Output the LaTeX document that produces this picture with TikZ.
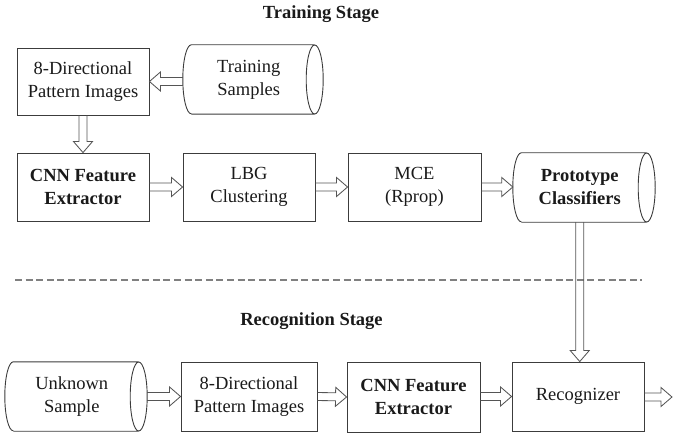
\documentclass[tikz,border=0pt]{standalone}
\usepackage{fontspec}
\setmainfont{LiberationSerif}[Extension=.ttf, UprightFont=*-Regular, BoldFont=*-Bold]
\usetikzlibrary{calc}
\definecolor{boxc}{HTML}{3C3C3C}
\definecolor{arrc}{HTML}{555555}
\definecolor{dashc}{HTML}{808080}
\definecolor{txtc}{HTML}{1A1A1A}
\tikzset{
  boxline/.style={draw=boxc, line width=0.9pt},
  box/.style={boxline, rectangle, inner sep=0pt, align=center, text=txtc,
    font=\fontsize{18.5}{23}\selectfont},
  boldbox/.style={box, font=\fontsize{18.5}{23}\selectfont\bfseries},
  cylnode/.style={rectangle, draw=none, inner sep=0pt, align=center, text=txtc,
    minimum height=69pt, font=\fontsize{18.5}{23}\selectfont},
  title/.style={inner sep=0pt, text=txtc, font=\fontsize{18.5}{23}\selectfont\bfseries},
  arrowline/.style={draw=arrc, line width=0.85pt, line join=miter},
  dashline/.style={draw=dashc, line width=1.3pt, dash pattern=on 7pt off 3.6pt}
}
\newcommand{\bigarrow}[2]{%
  \coordinate (ab) at ($(#2)!11pt!(#1)$);
  \draw[arrowline] ($(#1)!4pt!90:(#2)$) -- ($(ab)!4pt!90:(#2)$) -- ($(ab)!9.5pt!90:(#2)$)
    -- (#2) -- ($(ab)!9.5pt!-90:(#2)$) -- ($(ab)!4pt!-90:(#2)$) -- ($(#1)!4pt!-90:(#2)$);}
\newcommand{\cylout}[1]{%
  \draw[boxline] ([xshift=8.5pt]#1.north west) -- (#1.north east)
    ([xshift=8.5pt]#1.south west) -- (#1.south east)
    ([xshift=8.5pt]#1.north west) arc[start angle=90, end angle=270, x radius=8.5pt, y radius=34.5pt]
    (#1.east) ellipse[x radius=8.5pt, y radius=34.5pt];}
\begin{document}
\begin{tikzpicture}[x=1pt, y=-1pt]
\useasboundingbox (0,0) rectangle (673,436);
% titles
\node[title] (t1) at (321,14) {Training Stage};
\node[title] (t2) at (311.5,321) {Recognition Stage};
% training row 1
\node[box, minimum width=132pt, minimum height=67pt] (d8) at (83,81.5) {8-Directional\\Pattern Images};
\node[cylnode, minimum width=131.5pt] (ts) at (248.75,79.5) {Training\\Samples};
\cylout{ts}
% training row 2
\node[boldbox, minimum width=132pt, minimum height=68pt] (cnn) at (83,187) {CNN Feature\\Extractor};
\node[box, minimum width=132pt, minimum height=68pt] (lbg) at (249,187) {LBG\\Clustering};
\node[box, minimum width=133pt, minimum height=68pt] (mce) at (414.5,187) {MCE\\(Rprop)};
\node[cylnode, minimum width=133.5pt, font=\fontsize{18.5}{23}\selectfont\bfseries] (proto) at (579.75,187.5) {Prototype\\Classifiers};
\cylout{proto}
% recognition row
\node[cylnode, minimum width=133.5pt] (un) at (71.75,396.5) {Unknown\\Sample};
\cylout{un}
\node[box, minimum width=136pt, minimum height=69pt] (d8b) at (249,396.5) {8-Directional\\Pattern Images};
\node[boldbox, minimum width=133pt, minimum height=70pt] (cnnb) at (413.5,397) {CNN Feature\\Extractor};
\node[box, minimum width=132pt, minimum height=69pt] (rec) at (578,396.5) {Recognizer};
% dashed separator
\coordinate (dl1) at (15,280);
\coordinate (dl2) at (642,280);
\draw[dashline] (dl1) -- (dl2);
% connectors
\coordinate (tsw) at (ts.west |- d8.east);
\bigarrow{tsw}{d8.east}
\bigarrow{d8.south}{cnn.north}
\bigarrow{cnn.east}{lbg.west}
\bigarrow{lbg.east}{mce.west}
\coordinate (mcee) at (mce.east);
\coordinate (protow) at (proto.west |- mce.east);
\bigarrow{mcee}{protow}
\coordinate (recn) at (proto.south |- rec.north);
\bigarrow{proto.south}{recn}
\coordinate (une) at ([xshift=8.5pt]un.east);
\coordinate (d8bw) at (d8b.west |- une);
\bigarrow{une}{d8bw}
\bigarrow{d8b.east}{cnnb.west}
\coordinate (cnnbe) at (cnnb.east |- rec.west);
\bigarrow{cnnbe}{rec.west}
\coordinate (outp) at (672,397);
\coordinate (rece) at (rec.east |- outp);
\bigarrow{rece}{outp}
\end{tikzpicture}
\end{document}
